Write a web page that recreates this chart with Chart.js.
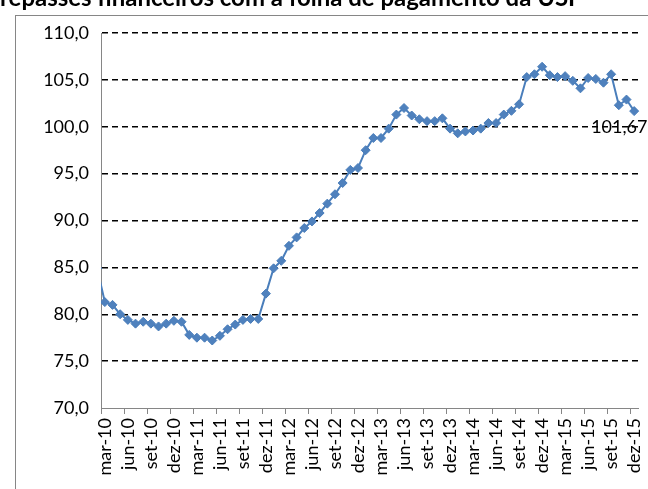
<!DOCTYPE html>
<html>
<head>
<meta charset="utf-8">
<script src="https://cdn.jsdelivr.net/npm/chart.js@4.4.1/dist/chart.umd.min.js"></script>
<style>
html,body{margin:0;padding:0;background:#fff;}
#wrap{width:648px;height:489px;position:relative;overflow:hidden;}
</style>
</head>
<body>
<div id="wrap"><canvas id="c" width="648" height="489"></canvas></div>
<script>
const titleText = 'repasses financeiros com a folha de pagamento da USP';

// categories (first one, fev-10, lies just outside the visible axis range)
const categories = [
  'fev-10','mar-10','abr-10','mai-10','jun-10','jul-10','ago-10','set-10','out-10','nov-10','dez-10',
  'jan-11','fev-11','mar-11','abr-11','mai-11','jun-11','jul-11','ago-11','set-11','out-11','nov-11','dez-11',
  'jan-12','fev-12','mar-12','abr-12','mai-12','jun-12','jul-12','ago-12','set-12','out-12','nov-12','dez-12',
  'jan-13','fev-13','mar-13','abr-13','mai-13','jun-13','jul-13','ago-13','set-13','out-13','nov-13','dez-13',
  'jan-14','fev-14','mar-14','abr-14','mai-14','jun-14','jul-14','ago-14','set-14','out-14','nov-14','dez-14',
  'jan-15','fev-15','mar-15','abr-15','mai-15','jun-15','jul-15','ago-15','set-15','out-15','nov-15','dez-15'
];

const values = [
  84.9,
  81.3, 81.0, 80.0, 79.4, 79.0, 79.2, 79.0, 78.7, 79.0, 79.3,
  79.2, 77.8, 77.5, 77.5, 77.2, 77.7, 78.4, 78.9, 79.4, 79.5, 79.5, 82.2,
  84.9, 85.7, 87.3, 88.2, 89.2, 89.9, 90.8, 91.8, 92.8, 94.0, 95.4, 95.6,
  97.5, 98.8, 98.8, 99.8, 101.3, 102.0, 101.2, 100.8, 100.6, 100.6, 100.9, 99.8,
  99.3, 99.5, 99.6, 99.8, 100.4, 100.4, 101.3, 101.7, 102.4, 105.3, 105.6, 106.4,
  105.5, 105.3, 105.4, 104.9, 104.1, 105.2, 105.1, 104.7, 105.6, 102.3, 102.9, 101.67
];

const firstVisible = 'mar-10';
const yMin = 70, yMax = 110, yStep = 5;
const labelEvery = 3;
const lastValueLabel = '101,67';

const FONT = 'Lato, "Open Sans", sans-serif';
const firstIdx = categories.indexOf(firstVisible);

const frame = {
  id: 'frame',
  beforeDraw(chart) {
    const ctx = chart.ctx;
    ctx.save();
    ctx.fillStyle = '#fff';
    ctx.fillRect(0, 0, chart.width, chart.height);
    ctx.strokeStyle = '#868686';
    ctx.lineWidth = 1;
    ctx.strokeRect(15.5, 15.5, chart.width + 20, chart.height + 20);
    ctx.restore();
  },
  afterDraw(chart) {
    const ctx = chart.ctx;
    ctx.save();
    let size = 20;
    ctx.font = 'bold ' + size + 'px ' + FONT;
    const w = ctx.measureText(titleText).width;
    size = size * 583 / w;
    ctx.font = 'bold ' + size.toFixed(2) + 'px ' + FONT;
    ctx.fillStyle = '#000';
    ctx.textBaseline = 'alphabetic';
    ctx.textAlign = 'left';
    ctx.fillText(titleText, 0, 6);
    ctx.restore();
  }
};

const lastLabel = {
  id: 'lastLabel',
  afterDatasetsDraw(chart) {
    const meta = chart.getDatasetMeta(0);
    const pt = meta.data[meta.data.length - 1];
    const ctx = chart.ctx;
    ctx.save();
    ctx.font = '18px ' + FONT;
    ctx.fillStyle = '#000';
    ctx.textAlign = 'left';
    ctx.textBaseline = 'middle';
    ctx.fillText(lastValueLabel, pt.x - 43, pt.y + 16);
    ctx.restore();
  }
};

new Chart(document.getElementById('c'), {
  type: 'line',
  data: {
    labels: categories,
    datasets: [{
      data: values,
      borderColor: '#4A7EBB',
      borderWidth: 2,
      backgroundColor: '#4F81BD',
      pointStyle: 'rectRot',
      pointRadius: 4.5,
      pointBorderWidth: 1,
      pointBorderColor: '#4A7EBB',
      pointBackgroundColor: '#4F81BD',
      tension: 0
    }]
  },
  options: {
    responsive: false,
    animation: false,
    devicePixelRatio: 1,
    layout: { padding: { left: 0, right: 10, top: 33, bottom: 0 } },
    plugins: { legend: { display: false }, title: { display: false }, tooltip: { enabled: false } },
    scales: {
      x: {
        type: 'category',
        min: firstVisible,
        offset: true,
        grid: {
          offset: true,
          drawOnChartArea: false,
          drawTicks: true,
          tickLength: 6,
          lineWidth: 1,
          color: c => (c.tick && (c.tick.value - firstIdx) % labelEvery === 0) ? '#868686' : 'rgba(0,0,0,0)'
        },
        border: { display: true, color: '#868686', width: 1 },
        ticks: {
          autoSkip: false,
          minRotation: 90,
          maxRotation: 90,
          padding: 4,
          color: '#000',
          font: { family: FONT, size: 18 },
          callback: function (v) { return (v - firstIdx) % labelEvery === 0 ? this.getLabelForValue(v) : ''; }
        },
        afterFit: s => { s.height = 81; s.paddingLeft = 0; s.paddingRight = 0; }
      },
      y: {
        min: yMin,
        max: yMax,
        grid: {
          drawTicks: false,
          lineWidth: 1.5,
          color: c => (c.tick && c.tick.value === yMin) ? 'rgba(0,0,0,0)' : '#000'
        },
        border: { display: true, color: '#868686', width: 1, dash: [6, 4] },
        ticks: {
          stepSize: yStep,
          padding: 12,
          color: '#000',
          font: { family: FONT, size: 18 },
          callback: v => v.toFixed(1).replace('.', ',')
        },
        afterFit: s => { s.width = 101; }
      }
    }
  },
  plugins: [frame, lastLabel]
});
</script>
</body>
</html>
